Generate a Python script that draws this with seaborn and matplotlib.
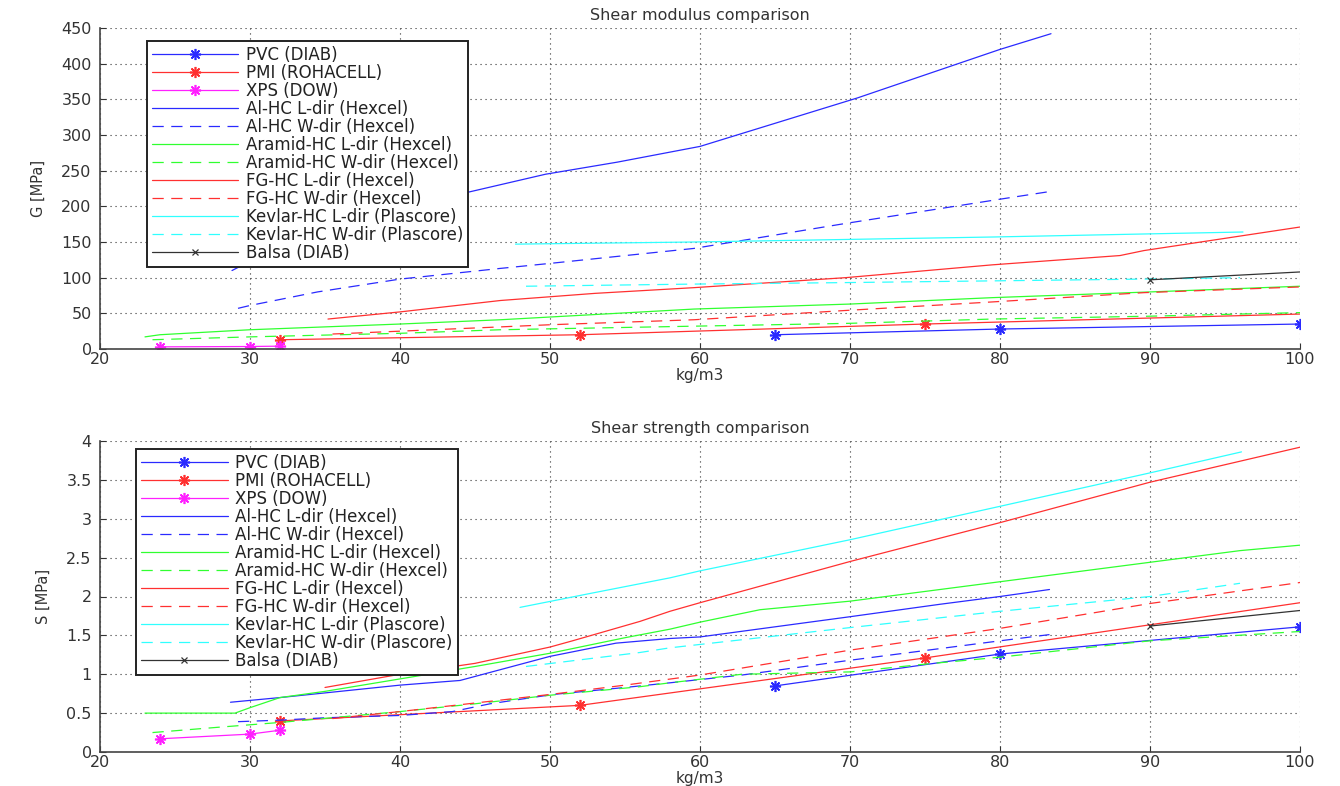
import matplotlib
matplotlib.use("Agg")
import matplotlib.pyplot as plt
import seaborn as sns

sns.set_style("white")
plt.rcParams["font.family"] = ["DejaVu Sans"]

# legend labels
labels = ["PVC (DIAB)", "PMI (ROHACELL)", "XPS (DOW)",
          "Al-HC L-dir (Hexcel)", "Al-HC W-dir (Hexcel)",
          "Aramid-HC L-dir (Hexcel)", "Aramid-HC W-dir (Hexcel)",
          "FG-HC L-dir (Hexcel)", "FG-HC W-dir (Hexcel)",
          "Kevlar-HC L-dir (Plascore)", "Kevlar-HC W-dir (Plascore)",
          "Balsa (DIAB)"]

# ---- shear modulus G [MPa] vs density kg/m3 ----
pvc_x = [65, 80, 100]
pvc_g = [20, 28, 35]
pmi_x = [32, 52, 75, 100]
pmi_g = [13, 20, 35, 49]
xps_x = [24, 30, 32]
xps_g = [3, 3.5, 4]
al_l_x = [28.8, 30, 35, 36.8, 49.7, 54.5, 60, 70.5, 80, 83.4]
al_l_g = [110, 123, 172, 182, 245, 262, 284, 352, 420, 442]
al_w_x = [29.2, 30, 34.5, 40, 46.7, 50, 59.6, 69.7, 80, 83.4]
al_w_g = [57, 61, 80, 98, 113, 120, 141, 176, 210, 221]
ar_l_x = [23, 24, 30, 40, 46.7, 59.6, 70, 79.5, 90, 100]
ar_l_g = [17, 20, 27, 35, 41, 56, 63, 72, 80, 88]
ar_w_x = [23.5, 30, 40, 46.7, 59.6, 70, 79.5, 90, 100]
ar_w_g = [13, 17, 22, 27, 32, 36, 42, 46, 51]
fg_l_x = [35.2, 40, 46.7, 53, 59.6, 69.7, 79.5, 88, 89.6, 100]
fg_l_g = [42, 52, 68, 78, 86, 100, 118, 131, 138, 171]
fg_w_x = [35.5, 40, 46.7, 50, 59.6, 69.7, 79.5, 89.6, 100]
fg_w_g = [21, 25, 31, 34, 41, 54, 66, 79, 87]
kv_l_x = [47.7, 59.6, 79.5, 96.2]
kv_l_g = [147, 150, 157, 164]
kv_w_x = [48.4, 59.6, 69.3, 89.6, 96]
kv_w_g = [88, 91, 93, 98, 100]
balsa_x = [90, 100]
balsa_g = [97, 108]

# ---- shear strength S [MPa] vs density kg/m3 ----
pvc_s = [0.85, 1.26, 1.61]
pmi_s = [0.40, 0.60, 1.21, 1.92]
xps_s = [0.17, 0.23, 0.28]
al_l_sx = [28.7, 32, 35, 40, 44, 50, 54.4, 58, 60, 70, 76, 80, 83.3]
al_l_s = [0.64, 0.70, 0.76, 0.86, 0.92, 1.23, 1.40, 1.46, 1.48, 1.74, 1.90, 2.00, 2.09]
al_w_sx = [29.2, 32, 35, 40, 43.5, 46, 50.2, 55, 58, 62.8, 70, 80, 83.3]
al_w_s = [0.39, 0.41, 0.44, 0.47, 0.52, 0.62, 0.74, 0.83, 0.89, 0.99, 1.18, 1.43, 1.51]
ar_l_sx = [23, 29, 30, 32, 35, 40, 45, 50, 55, 58, 60, 64, 70, 80, 90, 96, 100]
ar_l_s = [0.5, 0.5, 0.57, 0.70, 0.78, 0.94, 1.10, 1.27, 1.47, 1.58, 1.67, 1.83, 1.94, 2.19, 2.44, 2.59, 2.66]
ar_w_sx = [23.5, 28, 32, 40, 45, 50, 56, 58, 62.8, 70, 75, 80, 90, 100]
ar_w_s = [0.25, 0.32, 0.38, 0.52, 0.62, 0.73, 0.84, 0.89, 1.0, 1.03, 1.13, 1.22, 1.43, 1.55]
fg_l_sx = [35, 40, 45, 50, 51.5, 56, 58, 60, 70, 80, 90, 100]
fg_l_s = [0.83, 1.0, 1.14, 1.35, 1.43, 1.68, 1.81, 1.92, 2.45, 2.95, 3.47, 3.92]
fg_w_sx = [35.5, 40, 45, 50, 55, 60, 70, 80, 90, 100]
fg_w_s = [0.43, 0.52, 0.63, 0.74, 0.86, 0.99, 1.31, 1.59, 1.91, 2.18]
kv_l_sx = [48, 52.7, 58, 60, 70, 80, 90, 96.1]
kv_l_s = [1.86, 2.04, 2.24, 2.33, 2.73, 3.16, 3.59, 3.86]
kv_w_sx = [48.4, 56, 58, 70, 80, 90, 96]
kv_w_s = [1.10, 1.28, 1.34, 1.60, 1.81, 2.0, 2.17]
balsa_s = [1.62, 1.82]

x_ticks = list(range(20, 101, 10))
g_ticks = list(range(0, 451, 50))
s_ticks = [0, 0.5, 1, 1.5, 2, 2.5, 3, 3.5, 4]
s_ticklabels = ["0", "0.5", "1", "1.5", "2", "2.5", "3", "3.5", "4"]

BLUE, RED, MAG, GREEN, CYAN = "#2a2aff", "#ff3030", "#ff20ff", "#30ff30", "#30ffff"
DASH = (9, 6)
ASTER = (8, 2, 0)  # matlab style asterisk


def draw(ax, series):
    for x, y, lab, col, ls, mk, mev in series:
        kw = dict(color=col, lw=0.9, label=lab, estimator=None, sort=False, ax=ax)
        if ls == "--":
            kw["dashes"] = False
            kw["linestyle"] = (0, DASH)
        if mk:
            kw["marker"] = ASTER if mk == "*" else mk
            kw["markersize"] = 8 if mk == "*" else 5
            kw["markeredgecolor"] = col
            kw["markerfacecolor"] = col
            kw["markeredgewidth"] = 1.2 if mk == "*" else 0.9
            if mev is not None:
                kw["markevery"] = mev
        sns.lineplot(x=x, y=y, **kw)


def style(ax, title, ylabel, yticks, yticklabels, ylim, anchor):
    ax.set_xlim(20, 100)
    ax.set_ylim(*ylim)
    ax.set_xticks(x_ticks)
    ax.set_yticks(yticks)
    ax.set_yticklabels(yticklabels)
    ax.grid(True, color="#333333", linestyle=(0, (1, 3.5)), lw=0.8)
    sns.despine(ax=ax)
    for sp in ["left", "bottom"]:
        ax.spines[sp].set_color("#444444")
        ax.spines[sp].set_linewidth(1.2)
    ax.tick_params(direction="in", length=4, labelsize=11.5, colors="#333333",
                   left=True, bottom=True)
    ax.tick_params(axis="x", pad=2)
    ax.tick_params(axis="y", pad=6)
    ax.set_title(title, fontsize=11.5, color="#333333", pad=6)
    ax.set_xlabel("kg/m3", fontsize=11, color="#333333", labelpad=1)
    ax.set_ylabel(ylabel, fontsize=10.5, color="#333333", labelpad=11)
    leg = ax.legend(loc="upper left", bbox_to_anchor=anchor, borderaxespad=0,
                    fontsize=12, handlelength=5.2, handletextpad=0.45,
                    labelspacing=0.0, borderpad=0.3, fancybox=False,
                    framealpha=1, edgecolor="#222222")
    leg.get_frame().set_linewidth(1.4)
    for t in leg.get_texts():
        t.set_color("#222222")


fig = plt.figure(figsize=(13.4, 7.86), dpi=100)
ax1 = fig.add_axes([100 / 1340, 1 - 349 / 786, 1200 / 1340, 321 / 786])
ax2 = fig.add_axes([100 / 1340, 1 - 752 / 786, 1200 / 1340, 311 / 786])

top = [
    (pvc_x, pvc_g, labels[0], BLUE, "-", "*", None),
    (pmi_x, pmi_g, labels[1], RED, "-", "*", [0, 1, 2]),
    (xps_x, xps_g, labels[2], MAG, "-", "*", None),
    (al_l_x, al_l_g, labels[3], BLUE, "-", None, None),
    (al_w_x, al_w_g, labels[4], BLUE, "--", None, None),
    (ar_l_x, ar_l_g, labels[5], GREEN, "-", None, None),
    (ar_w_x, ar_w_g, labels[6], GREEN, "--", None, None),
    (fg_l_x, fg_l_g, labels[7], RED, "-", None, None),
    (fg_w_x, fg_w_g, labels[8], RED, "--", None, None),
    (kv_l_x, kv_l_g, labels[9], CYAN, "-", None, None),
    (kv_w_x, kv_w_g, labels[10], CYAN, "--", None, None),
    (balsa_x, balsa_g, labels[11], "#333333", "-", "x", [0]),
]
bottom = [
    (pvc_x, pvc_s, labels[0], BLUE, "-", "*", None),
    (pmi_x, pmi_s, labels[1], RED, "-", "*", [0, 1, 2]),
    (xps_x, xps_s, labels[2], MAG, "-", "*", None),
    (al_l_sx, al_l_s, labels[3], BLUE, "-", None, None),
    (al_w_sx, al_w_s, labels[4], BLUE, "--", None, None),
    (ar_l_sx, ar_l_s, labels[5], GREEN, "-", None, None),
    (ar_w_sx, ar_w_s, labels[6], GREEN, "--", None, None),
    (fg_l_sx, fg_l_s, labels[7], RED, "-", None, None),
    (fg_w_sx, fg_w_s, labels[8], RED, "--", None, None),
    (kv_l_sx, kv_l_s, labels[9], CYAN, "-", None, None),
    (kv_w_sx, kv_w_s, labels[10], CYAN, "--", None, None),
    (balsa_x, balsa_s, labels[11], "#333333", "-", "x", [0]),
]

draw(ax1, top)
draw(ax2, bottom)
style(ax1, "Shear modulus comparison", "G [MPa]", g_ticks, [str(v) for v in g_ticks],
      (0, 450), (0.039, 0.96))
style(ax2, "Shear strength comparison", "S [MPa]", s_ticks, s_ticklabels,
      (0, 4), (0.03, 0.975))

fig.savefig("out.png", dpi=100)
